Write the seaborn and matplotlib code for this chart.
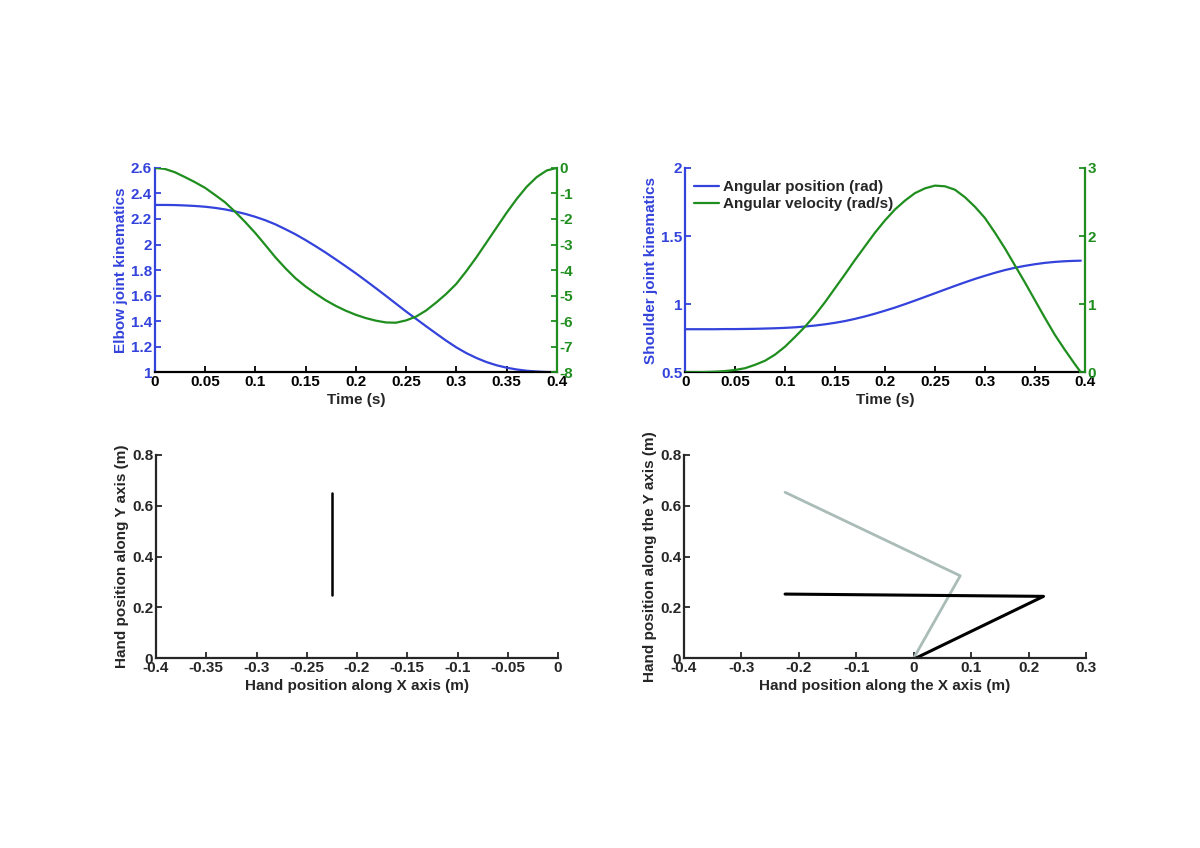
import numpy as np
import pandas as pd
import matplotlib
matplotlib.use("Agg")
import matplotlib.pyplot as plt
import seaborn as sns

# ---- data ----
t_elbow = [0.00, 0.01, 0.02, 0.03, 0.04, 0.05, 0.06, 0.07, 0.08, 0.09,
           0.10, 0.11, 0.12, 0.13, 0.14, 0.15, 0.16, 0.17, 0.18, 0.19,
           0.20, 0.21, 0.22, 0.23, 0.24, 0.25, 0.26, 0.27, 0.28, 0.29,
           0.30, 0.31, 0.32, 0.33, 0.34, 0.35, 0.36, 0.37, 0.38, 0.39, 0.40]
elbow_pos = [2.31, 2.31, 2.309, 2.306, 2.302, 2.296, 2.287, 2.275, 2.259, 2.24,
             2.217, 2.19, 2.158, 2.12, 2.08, 2.035, 1.987, 1.937, 1.884, 1.83,
             1.775, 1.717, 1.658, 1.598, 1.537, 1.476, 1.418, 1.36, 1.303, 1.247,
             1.195, 1.15, 1.112, 1.08, 1.055, 1.036, 1.022, 1.012, 1.006, 1.002, 1.0]
elbow_vel = [0, -0.04, -0.17, -0.36, -0.56, -0.78, -1.06, -1.35, -1.72, -2.12,
             -2.55, -3.02, -3.5, -3.93, -4.32, -4.64, -4.92, -5.18, -5.4, -5.59,
             -5.75, -5.88, -5.98, -6.05, -6.06, -5.97, -5.82, -5.58, -5.27, -4.93,
             -4.54, -4.04, -3.5, -2.92, -2.34, -1.76, -1.22, -0.74, -0.36, -0.1, 0]

t_shoulder = [0.00, 0.01, 0.02, 0.03, 0.04, 0.05, 0.06, 0.07, 0.08, 0.09,
              0.10, 0.11, 0.12, 0.13, 0.14, 0.15, 0.16, 0.17, 0.18, 0.19,
              0.20, 0.21, 0.22, 0.23, 0.24, 0.25, 0.26, 0.27, 0.28, 0.29,
              0.30, 0.31, 0.32, 0.33, 0.34, 0.35, 0.36, 0.37, 0.38, 0.39, 0.396]
shoulder_pos = [0.816, 0.816, 0.816, 0.816, 0.817, 0.817, 0.818, 0.819, 0.821, 0.823,
                0.826, 0.83, 0.836, 0.843, 0.852, 0.863, 0.876, 0.892, 0.91, 0.93,
                0.952, 0.975, 1.0, 1.026, 1.053, 1.08, 1.107, 1.134, 1.16, 1.185,
                1.208, 1.23, 1.25, 1.267, 1.281, 1.293, 1.303, 1.31, 1.315, 1.318, 1.319]
shoulder_vel = [0, 0.001, 0.003, 0.008, 0.018, 0.034, 0.06, 0.11, 0.17, 0.26,
                0.377, 0.52, 0.67, 0.84, 1.03, 1.235, 1.44, 1.65, 1.85, 2.05,
                2.23, 2.39, 2.52, 2.63, 2.70, 2.74, 2.73, 2.68, 2.57, 2.43,
                2.265, 2.05, 1.82, 1.57, 1.32, 1.06, 0.80, 0.55, 0.33, 0.12, 0.0]

# hand paths
left_x = [-0.225, -0.225]
left_y = [0.25, 0.65]
arm_grey_x = [-0.224, 0.081, 0.0]
arm_grey_y = [0.653, 0.324, 0.0]
arm_black_x = [-0.224, 0.226, 0.004]
arm_black_y = [0.252, 0.243, 0.0]

time_ticks = [0, 0.05, 0.1, 0.15, 0.2, 0.25, 0.3, 0.35, 0.4]
time_labels = ["0", "0.05", "0.1", "0.15", "0.2", "0.25", "0.3", "0.35", "0.4"]
elbow_ticks = [1, 1.2, 1.4, 1.6, 1.8, 2, 2.2, 2.4, 2.6]
elbow_labels = ["1", "1.2", "1.4", "1.6", "1.8", "2", "2.2", "2.4", "2.6"]
elbow_vticks = [-8, -7, -6, -5, -4, -3, -2, -1, 0]
elbow_vlabels = ["-8", "-7", "-6", "-5", "-4", "-3", "-2", "-1", "0"]
shoulder_ticks = [0.5, 1, 1.5, 2]
shoulder_labels = ["0.5", "1", "1.5", "2"]
shoulder_vticks = [0, 1, 2, 3]
shoulder_vlabels = ["0", "1", "2", "3"]
hy_ticks = [0, 0.2, 0.4, 0.6, 0.8]
hy_labels = ["0", "0.2", "0.4", "0.6", "0.8"]
hx_left_ticks = [-0.4, -0.35, -0.3, -0.25, -0.2, -0.15, -0.1, -0.05, 0]
hx_left_labels = ["-0.4", "-0.35", "-0.3", "-0.25", "-0.2", "-0.15", "-0.1", "-0.05", "0"]
hx_right_ticks = [-0.4, -0.3, -0.2, -0.1, 0, 0.1, 0.2, 0.3]
hx_right_labels = ["-0.4", "-0.3", "-0.2", "-0.1", "0", "0.1", "0.2", "0.3"]

BLUE = "#3343db"
GREEN = "#1f8e1f"
GREY = "#aabcb8"

sns.set_style("ticks")
plt.rcParams['font.family'] = ['Liberation Sans', 'DejaVu Sans']
plt.rcParams['font.weight'] = 'bold'
plt.rcParams['axes.labelweight'] = 'bold'
plt.rcParams['font.size'] = 11
plt.rcParams['axes.unicode_minus'] = False
plt.rcParams['axes.linewidth'] = 1.6

fig = plt.figure(figsize=(12, 8.48), dpi=100)

ax_tl = fig.add_axes([0.129, 0.561, 0.335, 0.241])
ax_tr = fig.add_axes([0.571, 0.561, 0.333, 0.241])
ax_bl = fig.add_axes([0.130, 0.224, 0.335, 0.2395])
ax_br = fig.add_axes([0.570, 0.224, 0.335, 0.2395])


def ticks_in(ax):
    ax.tick_params(direction='in', length=4, width=1.3, pad=2, labelsize=11)


def style_twin(ax, ax2):
    ax.spines['top'].set_visible(False)
    ax.spines['right'].set_visible(False)
    ax.spines['left'].set_color(BLUE)
    ax.spines['bottom'].set_color('black')
    ticks_in(ax)
    ticks_in(ax2)
    ax.tick_params(axis='y', colors=BLUE)
    ax.tick_params(axis='x', colors='black')
    ax2.spines['top'].set_visible(False)
    ax2.spines['left'].set_visible(False)
    ax2.spines['bottom'].set_visible(False)
    ax2.spines['right'].set_color(GREEN)
    ax2.tick_params(axis='y', colors=GREEN)


# ----- top left: elbow -----
df_e = pd.DataFrame({"t": t_elbow, "pos": elbow_pos, "vel": elbow_vel})
sns.lineplot(data=df_e, x="t", y="pos", ax=ax_tl, color=BLUE, linewidth=1.6)
ax_tl2 = ax_tl.twinx()
sns.lineplot(data=df_e, x="t", y="vel", ax=ax_tl2, color=GREEN, linewidth=1.6)
ax_tl.set_xlim(0, 0.4)
ax_tl.set_ylim(1, 2.6)
ax_tl2.set_ylim(-8, 0)
ax_tl.set_xticks(time_ticks, time_labels)
ax_tl.set_yticks(elbow_ticks, elbow_labels)
ax_tl2.set_yticks(elbow_vticks, elbow_vlabels)
ax_tl.set_xlabel("Time (s)", labelpad=3)
ax_tl.set_ylabel("Elbow joint kinematics", color=BLUE, labelpad=2)
ax_tl2.set_ylabel("")
style_twin(ax_tl, ax_tl2)

# ----- top right: shoulder -----
df_s = pd.DataFrame({"t": t_shoulder, "pos": shoulder_pos, "vel": shoulder_vel})
sns.lineplot(data=df_s, x="t", y="pos", ax=ax_tr, color=BLUE, linewidth=1.6)
ax_tr2 = ax_tr.twinx()
sns.lineplot(data=df_s, x="t", y="vel", ax=ax_tr2, color=GREEN, linewidth=1.6)
ax_tr.set_xlim(0, 0.4)
ax_tr.set_ylim(0.5, 2)
ax_tr2.set_ylim(0, 3)
ax_tr.set_xticks(time_ticks, time_labels)
ax_tr.set_yticks(shoulder_ticks, shoulder_labels)
ax_tr2.set_yticks(shoulder_vticks, shoulder_vlabels)
ax_tr.set_xlabel("Time (s)", labelpad=3)
ax_tr.set_ylabel("Shoulder joint kinematics", color=BLUE, labelpad=2)
ax_tr2.set_ylabel("")
style_twin(ax_tr, ax_tr2)
h1 = ax_tr.lines[0]
h2 = ax_tr2.lines[0]
leg = ax_tr.legend([h1, h2], ["Angular position (rad)", "Angular velocity (rad/s)"],
                   loc='upper left', bbox_to_anchor=(0.0, 0.985), frameon=False,
                   handlelength=1.6, handletextpad=0.3,
                   borderaxespad=0.2, labelspacing=0.2, fontsize=11)

# ----- bottom left: hand path (straight) -----
df_l = pd.DataFrame({"x": left_x, "y": left_y})
sns.lineplot(data=df_l, x="x", y="y", ax=ax_bl, color="black", linewidth=1.8,
             sort=False, estimator=None)
ax_bl.set_xlim(-0.4, 0)
ax_bl.set_ylim(0, 0.8)
ax_bl.set_xticks(hx_left_ticks, hx_left_labels)
ax_bl.set_yticks(hy_ticks, hy_labels)
ax_bl.set_xlabel("Hand position along X axis (m)", labelpad=3)
ax_bl.set_ylabel("Hand position along Y axis (m)", labelpad=2)
ticks_in(ax_bl)
sns.despine(ax=ax_bl)

# ----- bottom right: arm configurations -----
df_g = pd.DataFrame({"x": arm_grey_x, "y": arm_grey_y})
df_k = pd.DataFrame({"x": arm_black_x, "y": arm_black_y})
sns.lineplot(data=df_g, x="x", y="y", ax=ax_br, color=GREY, linewidth=2.0,
             sort=False, estimator=None)
sns.lineplot(data=df_k, x="x", y="y", ax=ax_br, color="black", linewidth=2.2,
             sort=False, estimator=None)
ax_br.set_xlim(-0.4, 0.3)
ax_br.set_ylim(0, 0.8)
ax_br.set_xticks(hx_right_ticks, hx_right_labels)
ax_br.set_yticks(hy_ticks, hy_labels)
ax_br.set_xlabel("Hand position along the X axis (m)", labelpad=3)
ax_br.set_ylabel("Hand position along the Y axis (m)", labelpad=2)
ticks_in(ax_br)
sns.despine(ax=ax_br)

fig.savefig("out.png", dpi=100)
